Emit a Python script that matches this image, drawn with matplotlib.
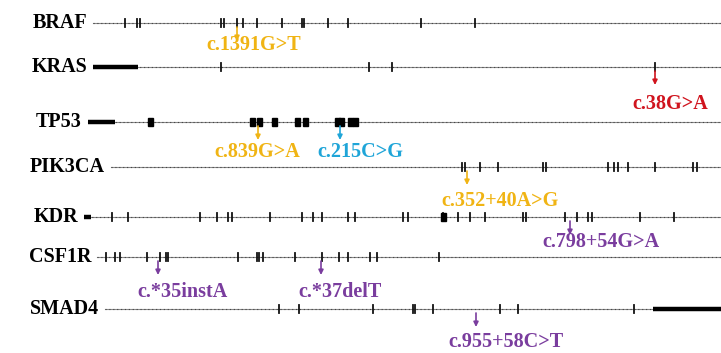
import matplotlib.pyplot as plt
from matplotlib.patches import Rectangle

# gene rows (track position along the row, drawn left -> right)
genes = ['BRAF', 'KRAS', 'TP53', 'PIK3CA', 'KDR', 'CSF1R', 'SMAD4']
row_y = [23, 67, 122, 167, 217, 257, 309]
gene_start = [93, 93, 88, 111, 84, 97, 105]
gene_end = [721, 721, 721, 721, 721, 721, 721]

# thin exon ticks
exons = {
    'BRAF': [125, 137, 140, 221, 224, 237, 243, 257, 282, 302, 304, 328, 348, 421, 475],
    'KRAS': [221, 369, 392, 655],
    'TP53': [],
    'PIK3CA': [462, 465, 480, 498, 543, 546, 608, 614, 618, 628, 655, 693, 697],
    'KDR': [112, 128, 200, 217, 228, 232, 270, 302, 313, 322, 348, 355, 403, 408,
            443, 458, 470, 485, 523, 526, 565, 577, 588, 592, 640, 674],
    'CSF1R': [106, 115, 120, 147, 160, 166, 168, 238, 257, 259, 263, 295, 322,
              339, 348, 370, 377, 439],
    'SMAD4': [279, 299, 373, 413, 415, 433, 500, 518, 634],
}
# wide coding blocks
blocks = {
    'TP53': [150, 252, 259, 274, 297, 305, 337, 341, 350, 355],
    'KDR': [443],
}
# UTR segments (thick line)
utrs = {
    'KRAS': [(93, 138)],
    'TP53': [(88, 115)],
    'KDR': [(84, 91)],
    'SMAD4': [(653, 721)],
}

# mutations
mut_gene = ['BRAF', 'KRAS', 'TP53', 'TP53', 'PIK3CA', 'KDR', 'CSF1R', 'CSF1R', 'SMAD4']
mut_pos = [237, 655, 258, 340, 467, 570, 158, 321, 476]
mut_label = ['c.1391G>T', 'c.38G>A', 'c.839G>A', 'c.215C>G', 'c.352+40A>G',
             'c.798+54G>A', 'c.*35instA', 'c.*37delT', 'c.955+58C>T']
mut_text_x = [254, 670, 257, 360, 500, 601, 183, 340, 506]
mut_text_y = [45, 104, 152, 152, 201, 242, 292, 292, 342]

gold = '#f0b414'
purple = '#7a3d9e'
mut_color = [gold, '#d0141e', gold, '#1fa5d8', gold, purple, purple, purple, purple]

fig = plt.figure(figsize=(7.21, 3.53), dpi=100)
ax = fig.add_axes([0, 0, 1, 1])
ax.set_xlim(0, 721)
ax.set_ylim(353, 0)
ax.axis('off')

font = dict(family='Liberation Serif', fontweight='bold', fontsize=14.5)

for g, y, x0, x1 in zip(genes, row_y, gene_start, gene_end):
    ax.plot([x0, x1], [y, y], color='#888888', lw=0.8, zorder=1)
    ax.plot([x0, x1], [y, y], color='#444444', lw=0.8, ls=(0, (1, 2.5)), zorder=1)
    for a, b in utrs.get(g, []):
        ax.plot([a, b], [y, y], color='black', lw=3.2, solid_capstyle='butt', zorder=2)
    for x in exons[g]:
        ax.plot([x, x], [y - 4, y + 4], color='#111111', lw=1.3, zorder=3)
    for x in blocks.get(g, []):
        ax.add_patch(Rectangle((x - 2.5, y - 4), 5, 8, color='black', zorder=3))
    ax.text(x0 - 6, y, g, ha='right', va='center', color='black', **font)

for g, x, lab, tx, ty, c in zip(mut_gene, mut_pos, mut_label, mut_text_x, mut_text_y, mut_color):
    y = row_y[genes.index(g)]
    ax.annotate('', xy=(x, y + 18), xytext=(x, y + 4),
                arrowprops=dict(arrowstyle='-|>', color=c, lw=1.2,
                                mutation_scale=7, shrinkA=0, shrinkB=0))
    ax.text(tx, ty, lab, ha='center', va='center', color=c, **font)

fig.savefig('out.png', dpi=100)
